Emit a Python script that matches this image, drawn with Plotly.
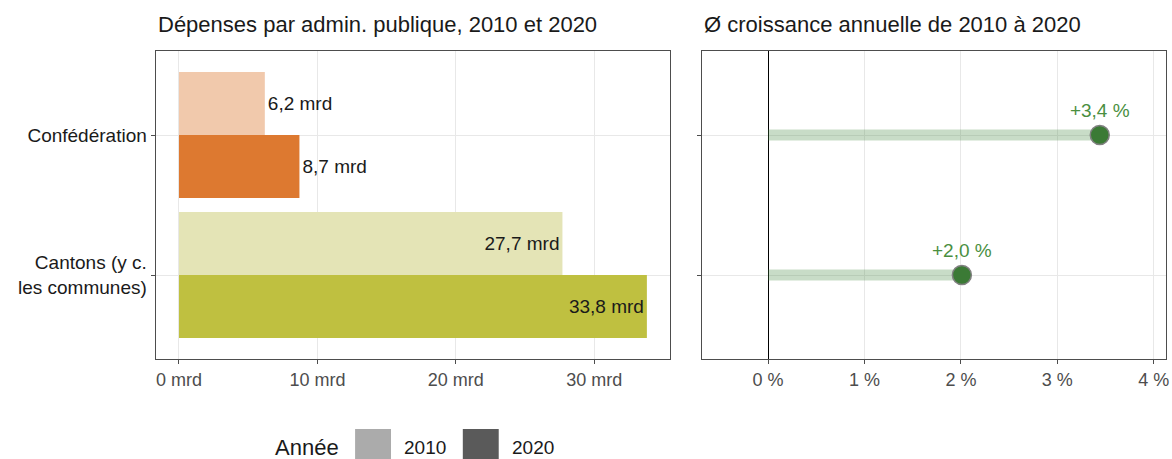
import plotly.graph_objects as go
from plotly.subplots import make_subplots

# data
categories = ["Confédération", "Cantons (y c.<br>les communes)"]
depenses_2010 = [6.2, 27.7]
depenses_2020 = [8.7, 33.8]
croissance = [3.44, 2.01]
x_ticks_mrd = [0, 10, 20, 30]
x_ticks_pct = [0, 1, 2, 3, 4]

colors_2010 = ["#f1c9ac", "#e4e4b6"]
colors_2020 = ["#dd7930", "#bfc040"]
FONT = "Liberation Sans, Arial, sans-serif"
W, H = 1172, 459


def fmt_mrd(v):
    return f"{v:.1f} mrd".replace(".", ",")


def fmt_pct(v):
    return f"+{v:.1f} %".replace(".", ",")


fig = make_subplots(rows=1, cols=2)

for vals, cols in [(depenses_2010, colors_2010), (depenses_2020, colors_2020)]:
    fig.add_trace(go.Bar(
        y=categories, x=vals, orientation="h",
        marker=dict(color=cols, line=dict(width=0)),
        text=[fmt_mrd(v) for v in vals],
        textposition=["outside", "inside"],
        insidetextanchor="end",
        textfont=dict(color="#1a1a1a", size=19, family=FONT),
        cliponaxis=False, showlegend=False, hoverinfo="skip",
    ), row=1, col=1)

# lollipops
for cat, g in zip(categories, croissance):
    fig.add_trace(go.Scatter(
        x=[0, g], y=[cat, cat], mode="lines",
        line=dict(color="rgba(74,140,68,0.3)", width=11),
        showlegend=False, hoverinfo="skip",
    ), row=1, col=2)

fig.add_trace(go.Scatter(
    x=croissance, y=categories, mode="markers+text",
    marker=dict(size=19, color="#3b7a35", line=dict(color="#808080", width=1.5)),
    text=[fmt_pct(g) for g in croissance],
    textposition="top center",
    textfont=dict(color="#4a8f3f", size=19, family=FONT),
    cliponaxis=False, showlegend=False, hoverinfo="skip",
), row=1, col=2)

axis_common = dict(
    showline=True, mirror=True, linecolor="#4d4d4d", linewidth=1,
    ticks="outside", ticklen=4, tickcolor="#4d4d4d",
    showgrid=True, gridcolor="#e8e8e8", gridwidth=1,
)

fig.update_xaxes(
    domain=[156 / W, 672 / W], range=[-1.69, 35.49],
    tickvals=x_ticks_mrd, ticktext=[f"{t} mrd" for t in x_ticks_mrd],
    tickfont=dict(size=18, color="#4d4d4d", family=FONT), zeroline=False,
    **axis_common, row=1, col=1,
)
fig.update_xaxes(
    domain=[704 / W, 1169 / W], range=[-0.683, 4.127],
    tickvals=x_ticks_pct, ticktext=[f"{t} %" for t in x_ticks_pct],
    tickfont=dict(size=18, color="#4d4d4d", family=FONT),
    ticklabeloverflow="allow",
    zeroline=True, zerolinecolor="#000000", zerolinewidth=1,
    **axis_common, row=1, col=2,
)
for c in (1, 2):
    fig.update_yaxes(
        domain=[1 - 359 / H, 1 - 51 / H],
        type="category", categoryarray=categories, categoryorder="array",
        range=[1.6, -0.6], showticklabels=(c == 1),
        tickfont=dict(size=19, color="#1a1a1a", family=FONT),
        **axis_common, row=1, col=c,
    )

annotations = [
    dict(text="Dépenses par admin. publique, 2010 et 2020", x=156 / W, y=1 - 25 / H,
         xanchor="left", yanchor="middle", font=dict(size=22, color="#1a1a1a")),
    dict(text="Ø croissance annuelle de 2010 à 2020", x=704 / W, y=1 - 25 / H,
         xanchor="left", yanchor="middle", font=dict(size=22, color="#1a1a1a")),
    dict(text="Année", x=274 / W, y=1 - 447 / H, xanchor="left", yanchor="middle",
         font=dict(size=22, color="#1a1a1a")),
    dict(text="2010", x=403 / W, y=1 - 447 / H, xanchor="left", yanchor="middle",
         font=dict(size=19, color="#1a1a1a")),
    dict(text="2020", x=511 / W, y=1 - 447 / H, xanchor="left", yanchor="middle",
         font=dict(size=19, color="#1a1a1a")),
]
for a in annotations:
    a.update(xref="paper", yref="paper", showarrow=False)

shapes = [
    dict(type="rect", xref="paper", yref="paper", x0=356 / W, x1=392 / W,
         y0=1 - 465 / H, y1=1 - 429 / H, fillcolor="#ababab", line=dict(width=0)),
    dict(type="rect", xref="paper", yref="paper", x0=464 / W, x1=500 / W,
         y0=1 - 465 / H, y1=1 - 429 / H, fillcolor="#5a5a5a", line=dict(width=0)),
]

fig.update_layout(
    width=W, height=H, margin=dict(l=0, r=0, t=0, b=0),
    paper_bgcolor="white", plot_bgcolor="white",
    barmode="group", bargap=0.1, bargroupgap=0,
    font=dict(family=FONT, color="#1a1a1a"),
    annotations=annotations, shapes=shapes,
)

fig.write_html(
    "out.html", config={"displayModeBar": False},
    post_script="document.body.style.margin='0px';document.body.style.overflow='hidden';",
)
